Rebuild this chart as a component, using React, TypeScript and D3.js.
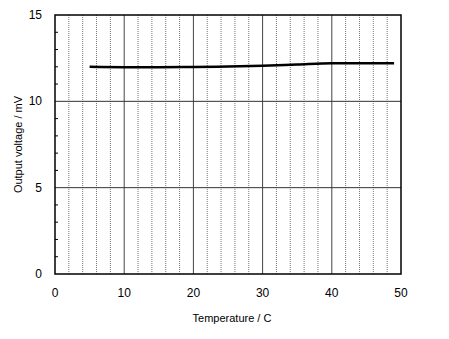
import React, { useEffect, useRef } from 'react';
import * as d3 from 'd3';

const temps = [5, 10, 15, 20, 25, 30, 35, 40, 45, 49];
const volts = [12.0, 11.98, 11.98, 11.99, 12.02, 12.06, 12.13, 12.2, 12.2, 12.2];
const xTicks = [0, 10, 20, 30, 40, 50];
const yTicks = [0, 5, 10, 15];

export default function App() {
  const svgRef = useRef<SVGSVGElement>(null);

  useEffect(() => {
    const svg = d3.select(svgRef.current);
    svg.selectAll('*').remove();

    const m = { l: 55, r: 48, t: 15, b: 65 };
    const W = 449, H = 339;
    const x = d3.scaleLinear().domain([0, 50]).range([m.l, W - m.r]);
    const y = d3.scaleLinear().domain([0, 15]).range([H - m.b, m.t]);

    // dotted verticals every 2
    svg.append('g').selectAll('line')
      .data(d3.range(2, 50, 2).filter(d => d % 10 !== 0))
      .enter().append('line')
      .attr('x1', d => x(d)).attr('x2', d => x(d))
      .attr('y1', y(0)).attr('y2', y(15))
      .attr('stroke', '#777').attr('stroke-width', 1)
      .attr('stroke-dasharray', '1,1');

    // solid verticals
    svg.append('g').selectAll('line')
      .data([10, 20, 30, 40])
      .enter().append('line')
      .attr('x1', d => x(d)).attr('x2', d => x(d))
      .attr('y1', y(0)).attr('y2', y(15))
      .attr('stroke', '#444').attr('stroke-width', 1);

    // horizontal grid
    svg.append('g').selectAll('line')
      .data([5, 10])
      .enter().append('line')
      .attr('x1', x(0)).attr('x2', x(50))
      .attr('y1', d => y(d)).attr('y2', d => y(d))
      .attr('stroke', '#333').attr('stroke-width', 1);

    // minor y ticks
    svg.append('g').selectAll('line')
      .data(d3.range(1, 15).filter(d => d % 5 !== 0))
      .enter().append('line')
      .attr('x1', x(0)).attr('x2', x(0) + 3)
      .attr('y1', d => y(d)).attr('y2', d => y(d))
      .attr('stroke', '#000');

    // frame
    svg.append('rect')
      .attr('x', x(0)).attr('y', y(15))
      .attr('width', x(50) - x(0)).attr('height', y(0) - y(15))
      .attr('fill', 'none').attr('stroke', '#000').attr('stroke-width', 1.5);

    // line
    const line = d3.line<number>().x((d, i) => x(temps[i])).y(d => y(d)).curve(d3.curveMonotoneX);
    svg.append('path')
      .datum(volts)
      .attr('d', line)
      .attr('fill', 'none').attr('stroke', '#000').attr('stroke-width', 2.5);

    const font = '"Liberation Sans", Arial, sans-serif';

    svg.append('g').selectAll('text')
      .data(xTicks).enter().append('text')
      .attr('x', d => x(d)).attr('y', y(0) + 23)
      .attr('text-anchor', 'middle')
      .style('font-family', font).style('font-size', '12px')
      .text(d => d);

    svg.append('g').selectAll('text')
      .data(yTicks).enter().append('text')
      .attr('x', x(0) - 13).attr('y', d => y(d) + 4)
      .attr('text-anchor', 'end')
      .style('font-family', font).style('font-size', '12px')
      .text(d => d);

    svg.append('text')
      .attr('x', (x(0) + x(50)) / 2 + 4).attr('y', 322)
      .attr('text-anchor', 'middle')
      .style('font-family', font).style('font-size', '11px')
      .text('Temperature / C');

    svg.append('text')
      .attr('transform', `translate(22,${(y(0) + y(15)) / 2}) rotate(-90)`)
      .attr('text-anchor', 'middle')
      .style('font-family', font).style('font-size', '11px')
      .text('Output voltage / mV');
  }, []);

  return (
    <div style={{ position: 'absolute', left: 0, top: 0 }}>
      <svg ref={svgRef} width="449" height="339" style={{ display: 'block', background: '#fff' }} />
    </div>
  );
}
